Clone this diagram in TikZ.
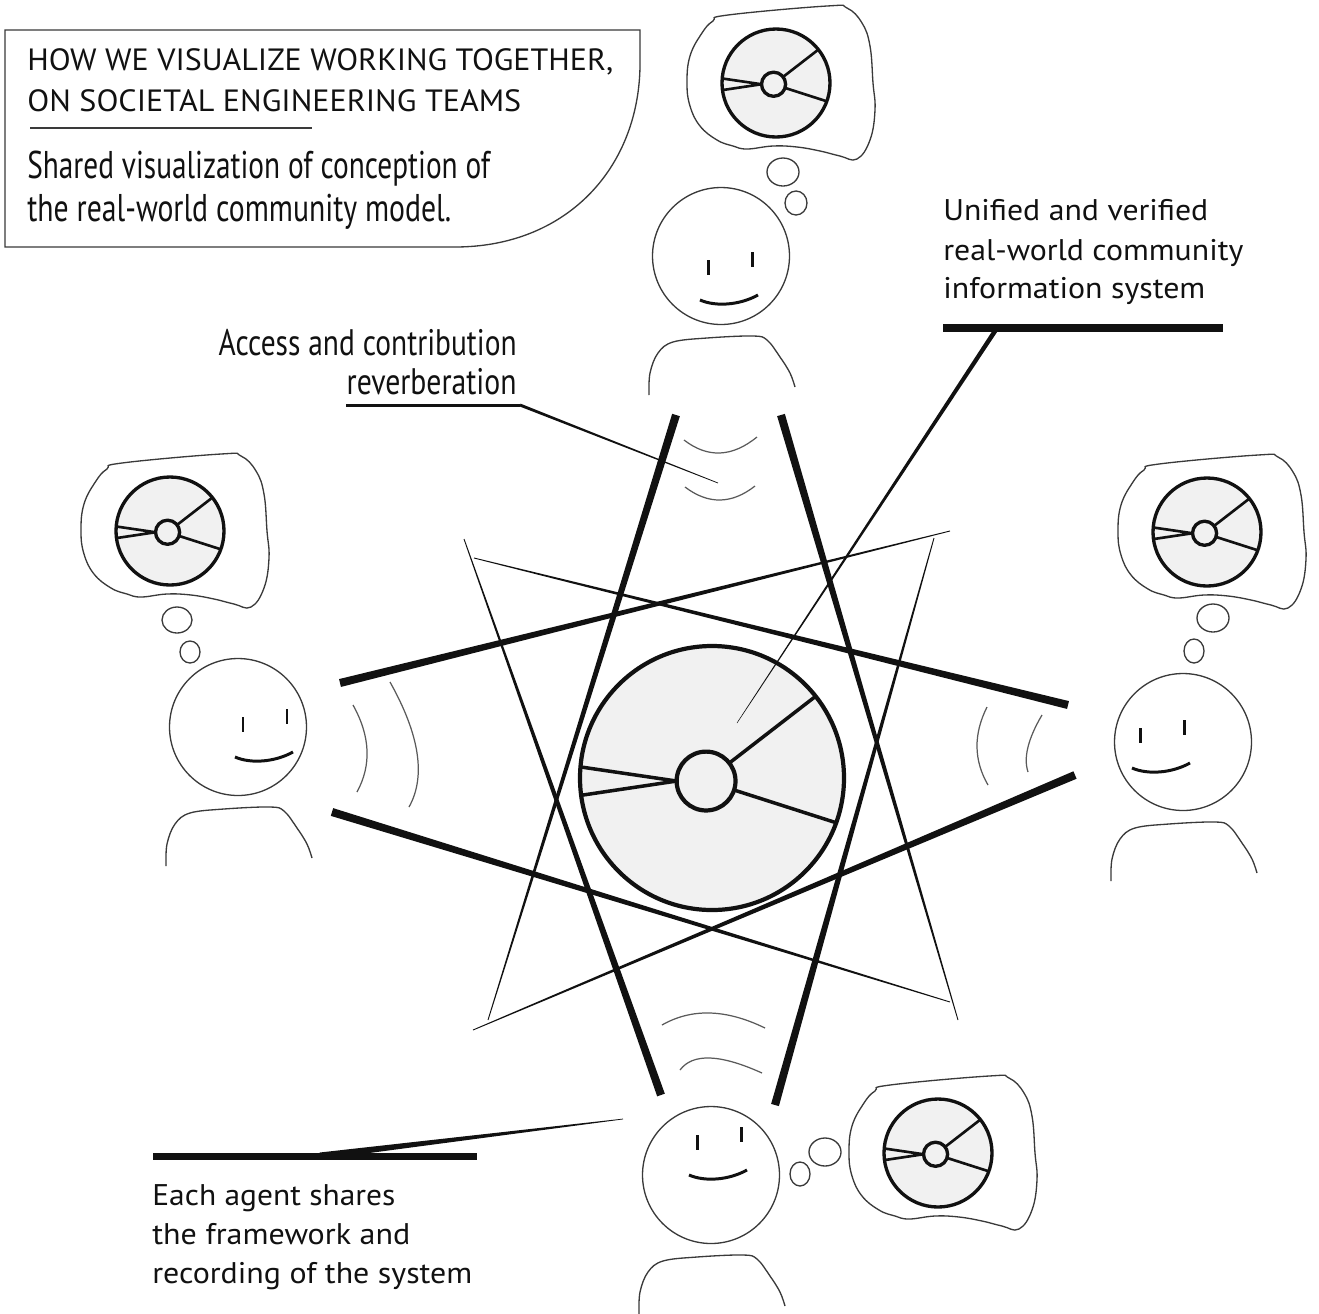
\documentclass[tikz,border=0pt]{standalone}
\usepackage{fontspec}
\setmainfont{PT Sans}
\usetikzlibrary{calc}

\definecolor{discfill}{HTML}{F1F1F1}
\definecolor{ink}{HTML}{111111}
\definecolor{outline}{HTML}{3A3A3A}
\definecolor{echo}{HTML}{5A5A5A}

% one drawing unit = 0.2mm
\newlength\pxu \setlength\pxu{0.2mm}
% set a line of text to a given width, keeping its height
\newcommand\fitto[2]{\resizebox{#1\pxu}{\height}{#2}}
% brush-like stroke: half width #3 at #1, tapering to half width #4 at #2
\newcommand\taperstroke[4]{%
  \fill[ink] ($(#1)!#3!90:(#2)$) -- ($(#2)!#4!-90:(#1)$) -- ($(#2)!#4!90:(#1)$) -- ($(#1)!#3!-90:(#2)$) -- cycle;}

\tikzset{
  thin outline/.style={draw=outline, line width=0.75pt},
  head/.style={circle, thin outline, minimum size=2.74cm, inner sep=0pt},
  echo arc/.style={draw=echo, line width=0.7pt},
  feature/.style={draw=ink, line width=1.7pt},
  textline/.style={inner sep=0pt, text=ink, anchor=base west},
  titlefont/.style={font=\fontsize{17.5}{20}\selectfont},
  subfont/.style={font=\fontsize{22}{26}\selectfont},
  notefont/.style={font=\fontsize{21}{25}\selectfont},
  labelfont/.style={font=\fontsize{17}{20}\selectfont},
  pics/face/.style={code={
    \draw[feature] (0,0) -- (0,15);
    \draw[feature] (44,-8) -- (44,7);
    \draw[feature] (-8,40) .. controls (8,47) and (32,45) .. (50,35);
  }},
  pics/shoulders/.style={code={
    \draw[thin outline] plot[smooth, tension=0.6] coordinates
      {(-72,139) (-71,117) (-63,97) (-48,86) (-14,82) (32,80) (46,84) (59,101) (69,117) (74,131)};
  }},
  pics/disc/.style 2 args={code={
    \fill[discfill] (0,0) circle (1);
    \draw[ink, line width=#2]
      (-0.268,0.023) -- (-0.996,-0.084)
      (-0.268,0.023) -- (-0.991,0.131)
      (-0.045,0.023) -- (0.785,-0.619)
      (-0.045,0.023) -- (0.941,0.339);
    \draw[ink, line width=#1] (0,0) circle (1);
    \draw[ink, line width=#1, fill=discfill] (-0.045,0.023) circle (0.223);
  }},
  pics/thought/.style={code={
    \draw[thin outline] plot[smooth cycle, tension=0.7] coordinates
      {(-48,-68) (51,-77) (71,-75) (86,-60) (94,-37) (97,0) (99,27) (94,57) (81,76)
       (64,73) (44,68) (21,64) (-3,63) (-29,66) (-43,63) (-59,57) (-76,43) (-86,23)
       (-89,0) (-86,-27) (-74,-50) (-63,-62)};
    \pic[scale=54] {disc={1.9pt}{1.5pt}};
  }},
}

\begin{document}
\begin{tikzpicture}[x=0.02cm, y=-0.02cm]
\useasboundingbox (0,0) rectangle (1319,1313);
\fill[white] (0,0) rectangle (1319,1313);

% ---- the eight brush strokes of the star
\coordinate (s1a) at (676,415);  \coordinate (s1b) at (488,1020);
\coordinate (s2a) at (661,1095); \coordinate (s2b) at (464,539);
\coordinate (s3a) at (781,415);  \coordinate (s3b) at (958,1020);
\coordinate (s4a) at (775,1105); \coordinate (s4b) at (934,538);
\coordinate (s5a) at (340,683);  \coordinate (s5b) at (950,531);
\coordinate (s6a) at (332,812);  \coordinate (s6b) at (950,1002);
\coordinate (s7a) at (1068,705); \coordinate (s7b) at (474,558);
\coordinate (s8a) at (1075,775); \coordinate (s8b) at (473,1030);
\foreach \a/\b in {s1a/s1b, s2a/s2b, s3a/s3b, s4a/s4b, s5a/s5b, s6a/s6b, s7a/s7b, s8a/s8b}
  {\taperstroke{\a}{\b}{2.3pt}{0.25pt}}

% ---- echo arcs in front of each agent
\draw[echo arc] (684,440) .. controls (707.7,458.3) and (732,457.3) .. (757,437);
\draw[echo arc] (685,487) .. controls (708.3,504.7) and (731.7,504.3) .. (755,486);
\draw[echo arc] (662,1025) .. controls (691.7,1008) and (726,1009) .. (765,1028);
\draw[echo arc] (680,1070) .. controls (692.7,1053) and (720,1054) .. (762,1073);
\draw[echo arc] (353,705) .. controls (370.3,736) and (371.7,765) .. (357,792);
\draw[echo arc] (390,682) .. controls (419.7,735) and (426,776.7) .. (409,807);
\draw[echo arc] (987,707) .. controls (973.3,734.3) and (973.7,760.3) .. (988,785);
\draw[echo arc] (1042,715) .. controls (1028,738.7) and (1023.3,757.7) .. (1028,772);

% ---- the shared system in the middle
\pic[scale=132] at (712,778) {disc={2.4pt}{2pt}};
\coordinate (core) at (737,723);

% ---- title panel
\draw[thin outline] (5,30) -- (640,30) -- (640,67) .. controls (638,170) and (565,247) .. (455,247) -- (5,247) -- cycle;
\node[textline, titlefont] (titleA) at (27,70) {\fitto{586}{HOW WE VISUALIZE WORKING TOGETHER,}};
\node[textline, titlefont] (titleB) at (27,111) {\fitto{494}{ON SOCIETAL ENGINEERING TEAMS}};
\draw[draw=outline, line width=0.6pt] (30,128) -- (312,128);
\node[textline, subfont] (subA) at (27,178) {\fitto{463}{Shared visualization of conception of}};
\node[textline, subfont] (subB) at (27,221) {\fitto{424}{the real-world community model.}};

% ---- agents
\node[head] (topHead) at (721,256) {};
\pic at (708,260) {face};
\pic at (721,256) {shoulders};
\draw[thin outline] (783,172) ellipse [x radius=16, y radius=14];
\draw[thin outline] (796,203) ellipse [x radius=11, y radius=12];
\pic at (776,83) {thought};

\node[head] (leftHead) at (238,727) {};
\pic at (243,717) {face};
\pic at (238,727) {shoulders};
\draw[thin outline] (177,620) ellipse [x radius=15, y radius=13];
\draw[thin outline] (190,652) ellipse [x radius=10, y radius=11];
\pic at (170,531) {thought};

\node[head] (rightHead) at (1183,742) {};
\pic at (1140,728) {face};
\pic at (1183,742) {shoulders};
\draw[thin outline] (1213,618) ellipse [x radius=16, y radius=14];
\draw[thin outline] (1194,651) ellipse [x radius=10, y radius=12];
\pic at (1207,532) {thought};

\node[head] (bottomHead) at (711,1175) {};
\pic at (697,1135) {face};
\pic at (711,1175) {shoulders};
\draw[thin outline] (825,1152) ellipse [x radius=16, y radius=14];
\draw[thin outline] (800,1174) ellipse [x radius=10, y radius=12];
\pic at (938,1153) {thought};

% ---- callout: access and contribution
\node[textline, notefont, anchor=base east] (accessA) at (517,355) {\fitto{298}{Access and contribution}};
\node[textline, notefont, anchor=base east] (accessB) at (517,394) {\fitto{170}{reverberation}};
\coordinate (accessL) at (346,405);
\coordinate (accessK) at (520,405);
\coordinate (accessEnd) at (718,483);
\draw[ink, line width=1.7pt] (accessL) -- (accessK);
\taperstroke{accessK}{accessEnd}{0.85pt}{0.2pt}

% ---- callout: unified system
\node[textline, labelfont] (unifiedA) at (943,220) {\fitto{265}{Unified and verified}};
\node[textline, labelfont] (unifiedB) at (943,260) {\fitto{300}{real-world community}};
\node[textline, labelfont] (unifiedC) at (943,298) {\fitto{262}{information system}};
\coordinate (unifiedL) at (943,328);
\coordinate (unifiedR) at (1223,328);
\coordinate (unifiedK) at (997,328);
\draw[ink, line width=4.5pt] (unifiedL) -- (unifiedR);
\taperstroke{unifiedK}{core}{1.3pt}{0.15pt}

% ---- callout: each agent
\node[textline, labelfont] (eachA) at (152,1205) {\fitto{243}{Each agent shares}};
\node[textline, labelfont] (eachB) at (152,1244) {\fitto{258}{the framework and}};
\node[textline, labelfont] (eachC) at (152,1283) {\fitto{320}{recording of the system}};
\coordinate (eachL) at (153,1156);
\coordinate (eachR) at (477,1156);
\coordinate (eachK) at (320,1156);
\coordinate (eachEnd) at (623,1119);
\draw[ink, line width=4pt] (eachL) -- (eachR);
\taperstroke{eachK}{eachEnd}{2pt}{0.2pt}
\end{tikzpicture}
\end{document}
